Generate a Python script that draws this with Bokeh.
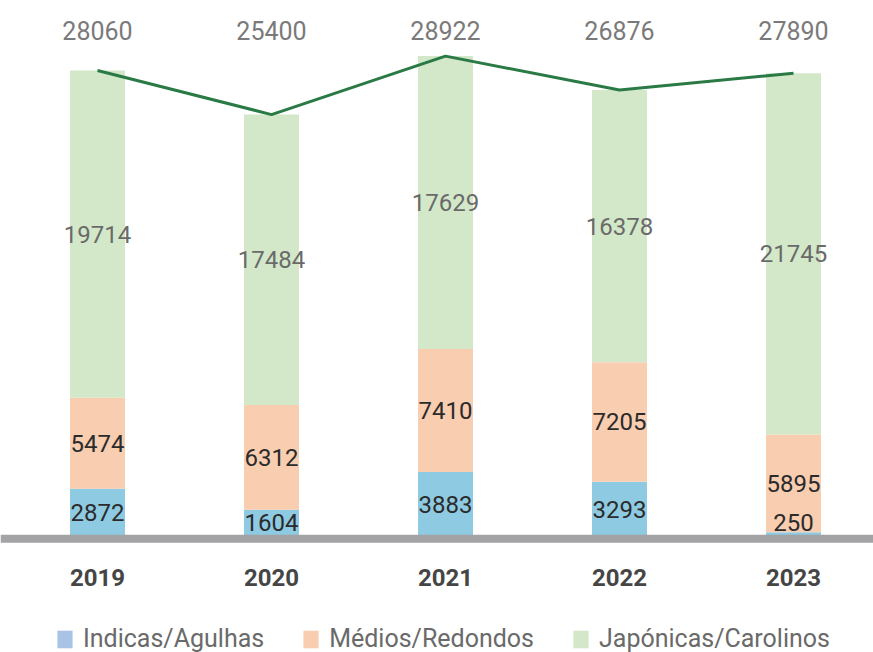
from bokeh.plotting import figure
from bokeh.models import Range1d, Span, Legend, LegendItem
from bokeh.core.properties import value
from bokeh.embed import file_html
from bokeh.resources import INLINE

years = ["2019", "2020", "2021", "2022", "2023"]
indicas = [2872, 1604, 3883, 3293, 250]
medios = [5474, 6312, 7410, 7205, 5895]
japonicas = [19714, 17484, 17629, 16378, 21745]
totals = [28060, 25400, 28922, 26876, 27890]
series_names = ["Indicas/Agulhas", "Médios/Redondos", "Japónicas/Carolinos"]

C_BLUE = "#8ecae2"
C_BLUE_LEG = "#a9c3e6"
C_PEACH = "#f8cdb0"
C_GREEN = "#d3e8c9"
C_LINE = "#2a7a45"

W, H = 873, 652
px_per_unit = 0.01661
base_px = 536
y_top = base_px / px_per_unit
y_bot = -(H - base_px) / px_per_unit
x_start = -97 / 174
x_end = x_start + W / 174

p = figure(width=W, height=H, output_backend="svg", toolbar_location=None,
           x_range=Range1d(x_start, x_end), y_range=Range1d(y_bot, y_top),
           min_border=0, outline_line_color=None)
p.axis.visible = False
p.grid.visible = False
p.background_fill_color = "white"
p.border_fill_color = "white"

xs = list(range(len(years)))
b1 = [0] * len(years)
t1 = indicas
b2 = t1
t2 = [a + b for a, b in zip(indicas, medios)]
b3 = t2
t3 = [a + b for a, b in zip(t2, japonicas)]

bw = 0.316
r1 = p.vbar(x=xs, bottom=b1, top=t1, width=bw, fill_color=C_BLUE, line_color=None)
r2 = p.vbar(x=xs, bottom=b2, top=t2, width=bw, fill_color=C_PEACH, line_color=None)
r3 = p.vbar(x=xs, bottom=b3, top=t3, width=bw, fill_color=C_GREEN, line_color=None)
# legend-only swatch (zero-height bar) in the lighter legend blue
r1_leg = p.vbar(x=[0], bottom=[0], top=[0], width=bw, fill_color=C_BLUE_LEG, line_color=None)

base = Span(location=-130, dimension="width", line_color="#a3a3a5", line_width=8)
p.add_layout(base)

p.line(x=xs, y=totals, line_color=C_LINE, line_width=3)

font = value("Roboto")
lab_kw = dict(text_align="center", text_baseline="middle", text_font=font,
              text_font_size="24px", text_color="#2b2b2b")
mid1 = [max((a + b) / 2, 840) for a, b in zip(b1, t1)]
mid2 = [(a + b) / 2 for a, b in zip(b2, t2)]
mid3 = [(a + b) / 2 for a, b in zip(b3, t3)]
p.text(x=xs, y=mid1, text=[str(v) for v in indicas], **lab_kw)
p.text(x=xs, y=mid2, text=[str(v) for v in medios], **lab_kw)
p.text(x=xs, y=mid3, text=[str(v) for v in japonicas], text_align="center",
       text_baseline="middle", text_font=font, text_font_size="24px", text_color="#6a6a6a")

total_y = (base_px - 30) / px_per_unit
p.text(x=xs, y=[total_y] * len(xs), text=[str(v) for v in totals], text_align="center",
       text_baseline="middle", text_font=font, text_font_size="25px", text_color="#7a7a7a")

year_y = (base_px - 577) / px_per_unit
p.text(x=xs, y=[year_y] * len(xs), text=years, text_align="center", text_baseline="middle",
       text_font=font, text_font_size="24px", text_font_style="bold", text_color="#454545")

legend = Legend(items=[LegendItem(label=series_names[0], renderers=[r1_leg]),
                       LegendItem(label=series_names[1], renderers=[r2]),
                       LegendItem(label=series_names[2], renderers=[r3])],
                orientation="horizontal", location=(55, -1),
                label_text_font="Roboto", label_text_font_size="25px", label_text_color="#6a6a6a",
                glyph_width=19, glyph_height=22, spacing=37, label_standoff=9,
                background_fill_alpha=0, border_line_color=None, padding=0, margin=0)
p.add_layout(legend, "center")

open("out.html", "w").write(file_html(p, INLINE))
